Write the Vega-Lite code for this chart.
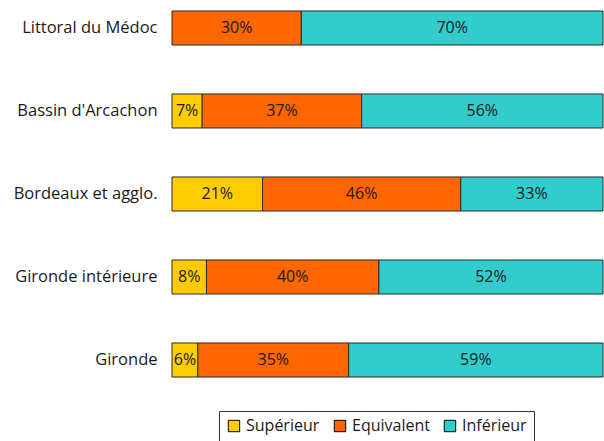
{
  "$schema": "https://vega.github.io/schema/vega-lite/v6.json",
  "width": 431,
  "height": 378,
  "padding": {"left": 13, "top": 5, "right": 0, "bottom": 0},
  "background": "white",
  "config": {
    "view": {"stroke": null},
    "font": "Open Sans"
  },
  "data": {
    "values": [
      {"zone": "Littoral du Médoc", "cat": "Equivalent", "v": 30},
      {"zone": "Littoral du Médoc", "cat": "Inférieur", "v": 70},
      {"zone": "Bassin d'Arcachon", "cat": "Supérieur", "v": 7},
      {"zone": "Bassin d'Arcachon", "cat": "Equivalent", "v": 37},
      {"zone": "Bassin d'Arcachon", "cat": "Inférieur", "v": 56},
      {"zone": "Bordeaux et agglo.", "cat": "Supérieur", "v": 21},
      {"zone": "Bordeaux et agglo.", "cat": "Equivalent", "v": 46},
      {"zone": "Bordeaux et agglo.", "cat": "Inférieur", "v": 33},
      {"zone": "Gironde intérieure", "cat": "Supérieur", "v": 8},
      {"zone": "Gironde intérieure", "cat": "Equivalent", "v": 40},
      {"zone": "Gironde intérieure", "cat": "Inférieur", "v": 52},
      {"zone": "Gironde", "cat": "Supérieur", "v": 6},
      {"zone": "Gironde", "cat": "Equivalent", "v": 35},
      {"zone": "Gironde", "cat": "Inférieur", "v": 59}
    ]
  },
  "transform": [
    {"calculate": "indexof(['Supérieur','Equivalent','Inférieur'], datum.cat)", "as": "ord"},
    {"stack": "v", "groupby": ["zone"], "sort": [{"field": "ord", "order": "ascending"}], "as": ["v0", "v1"]},
    {"calculate": "(datum.v0 + datum.v1) / 2", "as": "mid"},
    {"calculate": "datum.v + '%'", "as": "lbl"}
  ],
  "encoding": {
    "y": {
      "field": "zone",
      "type": "nominal",
      "sort": ["Littoral du Médoc", "Bassin d'Arcachon", "Bordeaux et agglo.", "Gironde intérieure", "Gironde"],
      "scale": {"paddingInner": 0.59, "paddingOuter": 0.072},
      "axis": {
        "title": null,
        "domain": false,
        "ticks": false,
        "labelPadding": 15,
        "labelFontSize": 16.5,
        "labelColor": "#1a1a1a",
        "labelFont": "Open Sans"
      }
    }
  },
  "layer": [
    {
      "mark": {"type": "bar", "stroke": "#2b2b2b", "strokeWidth": 1},
      "encoding": {
        "x": {"field": "v0", "type": "quantitative", "scale": {"domain": [0, 100], "nice": false}, "axis": null},
        "x2": {"field": "v1"},
        "color": {
          "field": "cat",
          "type": "nominal",
          "scale": {"domain": ["Supérieur", "Equivalent", "Inférieur"], "range": ["#FFCC00", "#FF6600", "#33CCCC"]},
          "legend": {
            "title": null,
            "orient": "none",
            "legendX": 47,
            "legendY": 406,
            "direction": "horizontal",
            "symbolType": "square",
            "symbolSize": 130,
            "symbolStrokeColor": "#000000",
            "symbolStrokeWidth": 1,
            "symbolOpacity": 1,
            "labelFontSize": 16,
            "labelColor": "#1a1a1a",
            "labelFont": "Open Sans",
            "strokeColor": "#333333",
            "padding": 7,
            "columnPadding": 12,
            "labelOffset": 4
          }
        }
      }
    },
    {
      "mark": {"type": "text", "fontSize": 16, "color": "#1a1a1a", "font": "Open Sans"},
      "encoding": {
        "x": {"field": "mid", "type": "quantitative"},
        "text": {"field": "lbl"}
      }
    }
  ]
}
